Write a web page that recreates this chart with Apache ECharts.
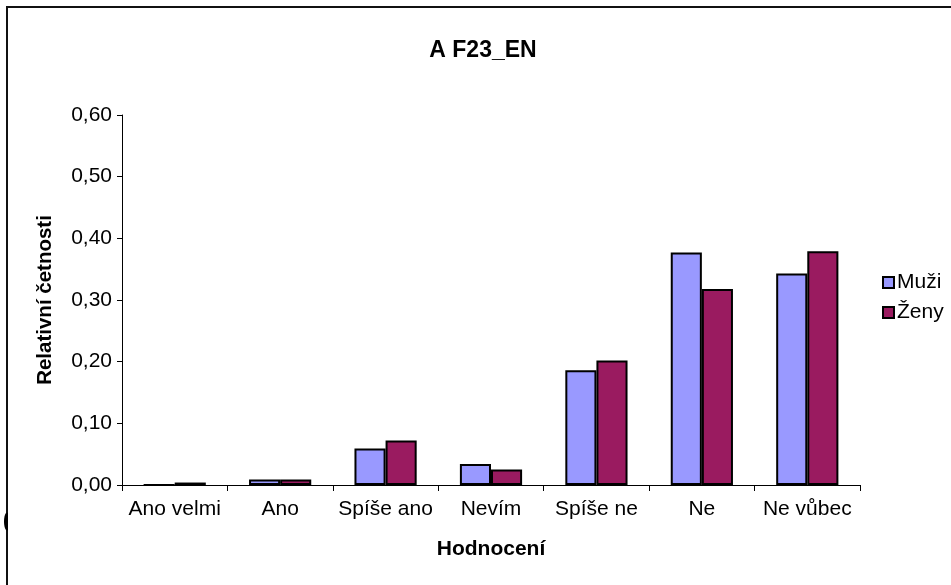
<!DOCTYPE html>
<html>
<head>
<meta charset="utf-8">
<script src="https://cdn.jsdelivr.net/npm/echarts@6/dist/echarts.min.js"></script>
<style>
html,body{margin:0;padding:0;background:#fff;}
#c{width:951px;height:585px;}
</style>
</head>
<body>
<div id="c"></div>
<script>
const categories = ['Ano velmi', 'Ano', 'Spíše ano', 'Nevím', 'Spíše ne', 'Ne', 'Ne vůbec'];
const muzi = [0.000, 0.009, 0.059, 0.034, 0.186, 0.377, 0.343];
const zeny = [0.004, 0.009, 0.072, 0.025, 0.202, 0.318, 0.379];
const yTicks = [0, 0.1, 0.2, 0.3, 0.4, 0.5, 0.6];

const FONT = 'Liberation Sans, Arial, sans-serif';
const chart = echarts.init(document.getElementById('c'), null, {renderer: 'canvas'});
chart.setOption({
  animation: false,
  backgroundColor: '#fff',
  textStyle: {fontFamily: FONT, color: '#000'},
  title: {
    text: 'A F23_EN', left: 478, top: 34, textAlign: 'center',
    textStyle: {fontFamily: FONT, fontSize: 23, fontWeight: 'bold', color: '#000'}
  },
  graphic: [
    {type: 'rect', shape: {x: 7, y: 7, width: 1000, height: 700},
     style: {fill: 'none', stroke: '#111', lineWidth: 2}, silent: true},
    {type: 'ellipse', shape: {cx: 7, cy: 521.5, rx: 3, ry: 9},
     style: {fill: '#000'}, silent: true},
    {type: 'rect', shape: {x: 8, y: 510, width: 5, height: 24},
     style: {fill: '#fff'}, silent: true}
  ],
  legend: {
    orient: 'vertical', left: 877, top: 267, itemGap: 9,
    itemWidth: 11, itemHeight: 11, icon: 'rect',
    textStyle: {fontFamily: FONT, fontSize: 21, color: '#000', padding: [0, 0, 0, -2]},
    data: ['Muži', 'Ženy']
  },
  grid: {left: 122, right: 91, top: 115, bottom: 100, containLabel: false},
  xAxis: {
    type: 'category', data: categories,
    name: 'Hodnocení', nameLocation: 'middle', nameGap: 54,
    nameTextStyle: {fontFamily: FONT, fontSize: 21, fontWeight: 'bold', color: '#000'},
    axisLine: {lineStyle: {color: '#000', width: 1}},
    axisTick: {show: true, length: 6, lineStyle: {color: '#000'}},
    axisLabel: {fontFamily: FONT, fontSize: 21, color: '#000', margin: 14, interval: 0}
  },
  yAxis: {
    type: 'value', min: 0, max: 0.6, interval: 0.1,
    name: 'Relativní četnosti', nameLocation: 'middle', nameGap: 66,
    nameTextStyle: {fontFamily: FONT, fontSize: 20.5, fontWeight: 'bold', color: '#000'},
    axisLine: {show: true, lineStyle: {color: '#000', width: 1}},
    axisTick: {show: true, length: 5, lineStyle: {color: '#000'}},
    splitLine: {show: false},
    axisLabel: {fontFamily: FONT, fontSize: 21, color: '#000', margin: 10,
      formatter: v => v.toFixed(2).replace('.', ',')}
  },
  series: [
    {name: 'Muži', type: 'bar', data: muzi, barGap: '0%', barCategoryGap: '41%',
     itemStyle: {color: '#9999FF', borderColor: '#000', borderWidth: 2}},
    {name: 'Ženy', type: 'bar', data: zeny, barGap: '0%', barCategoryGap: '41%',
     itemStyle: {color: '#9A1B60', borderColor: '#000', borderWidth: 2}}
  ]
});
</script>
</body>
</html>
